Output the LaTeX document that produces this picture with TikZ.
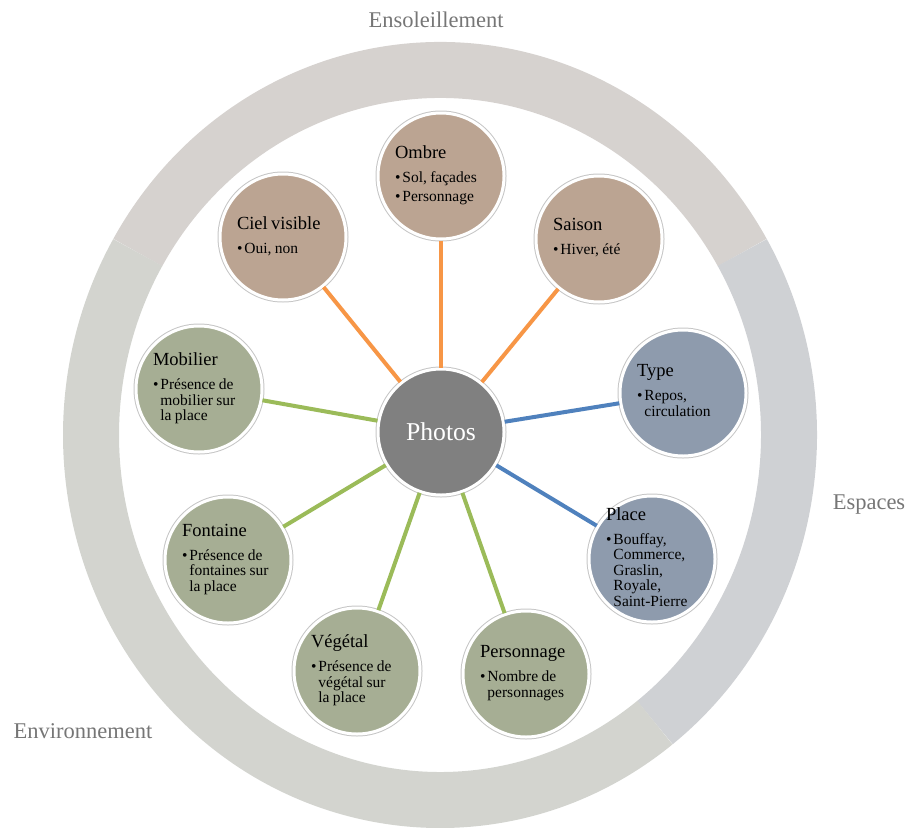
\documentclass[tikz,border=0pt]{standalone}
\usepackage{fontspec}
\setmainfont{Liberation Serif}
\usepackage{tikz}

\definecolor{brunclair}{RGB}{187,164,146}
\definecolor{bleugris}{RGB}{142,155,173}
\definecolor{vertgris}{RGB}{166,174,148}
\definecolor{grisfonce}{RGB}{128,128,128}
\definecolor{orangelien}{RGB}{247,150,70}
\definecolor{bleulien}{RGB}{79,129,189}
\definecolor{vertlien}{RGB}{155,187,89}
\definecolor{anneauens}{RGB}{214,210,207}
\definecolor{anneauesp}{RGB}{207,209,212}
\definecolor{anneauenv}{RGB}{211,212,207}
\definecolor{gristexte}{RGB}{118,118,118}

\newcommand{\titre}[1]{{\fontsize{18.5}{20}\selectfont #1\par}\vspace{8.5pt}}
\newcommand{\puce}[1]{{\fontsize{15.5}{15.5}\selectfont\textbullet\hspace{2pt}\begin{tabular}[t]{@{}l@{}}#1\end{tabular}\par}}

\begin{document}
\begin{tikzpicture}[x=1pt, y=-1pt,
  bulle/.style={circle, minimum size=126pt, inner sep=0pt, draw=white, line width=3pt,
    preaction={draw=gray!45, line width=5pt}},
  texte/.style={text width=92pt, align=left, inner sep=0pt},
  anneau/.style={line width=56pt},
  lien/.style={line width=4pt},
  etiquette/.style={text=gristexte, font=\fontsize{22.5}{24}\selectfont}]
\useasboundingbox (0,0) rectangle (907,827);

% anneau
\draw[anneau, color=anneauens] (440,435) ++(210:349 and 365) arc[start angle=210, end angle=330, x radius=349, y radius=365];
\draw[anneau, color=anneauesp] (440,435) ++(-30:349 and 365) arc[start angle=-30, end angle=52, x radius=349, y radius=365];
\draw[anneau, color=anneauenv] (440,435) ++(52:349 and 365) arc[start angle=52, end angle=210, x radius=349, y radius=365];

\node[etiquette] (ensol) at (436,20) {Ensoleillement};
\node[etiquette] (espaces) at (869,505) {Espaces};
\node[etiquette] (envir) at (83,731) {Environnement};

\node[bulle, fill=grisfonce] (photos) at (441,432) {};
\node[text=white, font=\fontsize{25.7}{28}\selectfont] (photos-t) at (photos) {Photos};

\node[bulle, fill=brunclair] (ombre) at (441,176) {};
\node[texte] (ombre-t) at (ombre) {\titre{Ombre}\puce{Sol, façades}\vspace{3.5pt}\puce{Personnage}};
\node[bulle, fill=brunclair] (ciel) at (283,237) {};
\node[texte] (ciel-t) at (ciel) {\titre{Ciel visible}\puce{Oui, non}};
\node[bulle, fill=brunclair] (saison) at (599,239) {};
\node[texte] (saison-t) at (saison) {\titre{Saison}\puce{Hiver, été}};

\node[bulle, fill=bleugris] (type) at (683,393) {};
\node[texte] (type-t) at (type) {\titre{Type}\puce{Repos,\\circulation}};
\node[bulle, fill=bleugris] (place) at (652,559) {};
\node[texte] (place-t) at (place) {\titre{Place}\puce{Bouffay,\\Commerce,\\Graslin,\\Royale,\\Saint-Pierre}};

\node[bulle, fill=vertgris] (perso) at (526,674) {};
\node[texte] (perso-t) at (perso) {\titre{Personnage}\puce{Nombre de\\personnages}};
\node[bulle, fill=vertgris] (vegetal) at (357,671) {};
\node[texte] (vegetal-t) at (vegetal) {\titre{Végétal}\puce{Présence de\\végétal sur\\la place}};
\node[bulle, fill=vertgris] (fontaine) at (228,560) {};
\node[texte] (fontaine-t) at (fontaine) {\titre{Fontaine}\puce{Présence de\\fontaines sur\\la place}};
\node[bulle, fill=vertgris] (mobilier) at (199,389) {};
\node[texte] (mobilier-t) at (mobilier) {\titre{Mobilier}\puce{Présence de\\mobilier sur\\la place}};

\draw[lien, color=orangelien] (photos) -- (ombre);
\draw[lien, color=orangelien] (photos) -- (ciel);
\draw[lien, color=orangelien] (photos) -- (saison);
\draw[lien, color=bleulien] (photos) -- (type);
\draw[lien, color=bleulien] (photos) -- (place);
\draw[lien, color=vertlien] (photos) -- (perso);
\draw[lien, color=vertlien] (photos) -- (vegetal);
\draw[lien, color=vertlien] (photos) -- (fontaine);
\draw[lien, color=vertlien] (photos) -- (mobilier);
\end{tikzpicture}
\end{document}
